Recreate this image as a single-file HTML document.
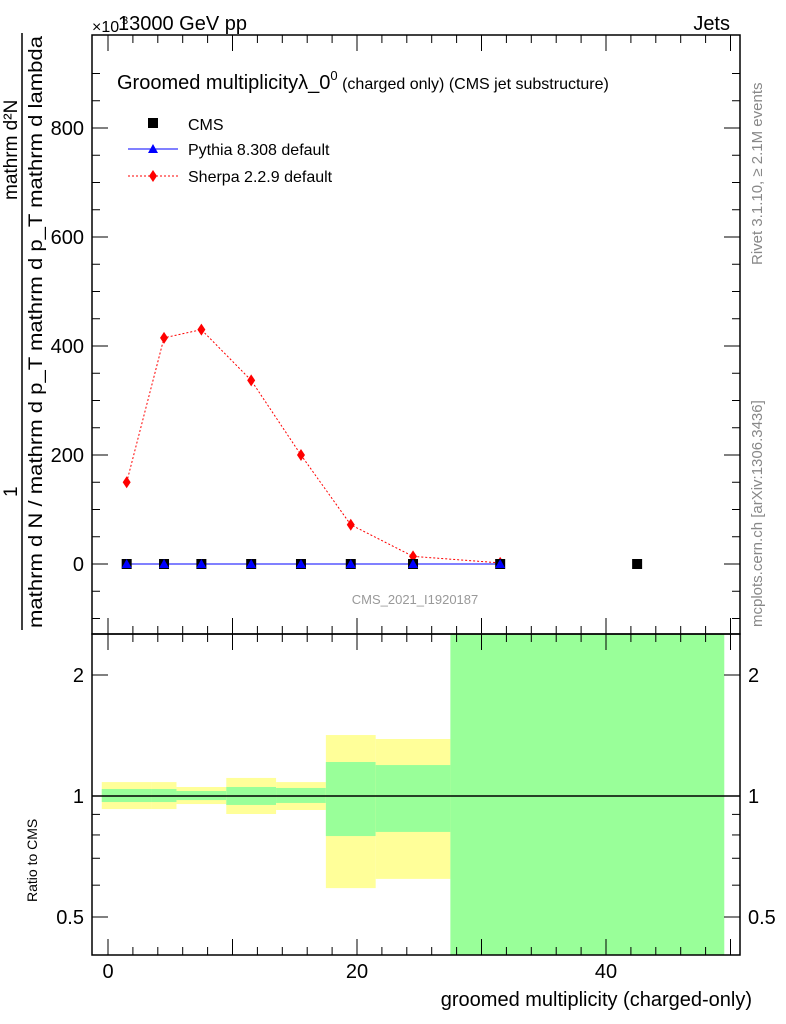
<!DOCTYPE html>
<html><head><meta charset="utf-8"><style>
body{margin:0;background:#fff}
svg{display:block;font-family:"Liberation Sans",sans-serif}
</style></head><body>
<svg id="chart" width="786" height="1024" viewBox="0 0 786 1024">
<g id="bands"></g>
<g id="main"></g>
<g id="axes"></g>
<text x="118" y="30" font-size="20">13000 GeV pp</text>
<text x="92" y="32" font-size="16">×10</text>
<text x="122" y="24" font-size="11">3</text>
<text x="730" y="30" font-size="20" text-anchor="end">Jets</text>
<text x="117" y="89" font-size="20">Groomed multiplicityλ_0<tspan font-size="13" dy="-9">0</tspan><tspan font-size="16" dy="9"> (charged only) (CMS jet substructure)</tspan></text>
<g>
<rect x="148" y="118" width="10" height="10" fill="#000"/>
<text x="188" y="130" font-size="16">CMS</text>
<line x1="128" y1="149" x2="178" y2="149" stroke="#00f"/>
<polygon points="153,144 158,153 148,153" fill="#00f"/>
<text x="188" y="155" font-size="16">Pythia 8.308 default</text>
<line x1="128" y1="176" x2="178" y2="176" stroke="#f00" stroke-dasharray="2,2"/>
<polygon points="153,170 157,176 153,182 149,176" fill="#f00"/>
<text x="188" y="182" font-size="16">Sherpa 2.2.9 default</text>
</g>
<text x="415" y="604" font-size="13" fill="#999" text-anchor="middle">CMS_2021_I1920187</text>
<text transform="translate(762,265) rotate(-90)" font-size="15" fill="#888">Rivet 3.1.10, ≥ 2.1M events</text>
<text transform="translate(762,627) rotate(-90)" font-size="15" fill="#888">mcplots.cern.ch [arXiv:1306.3436]</text>
<g>
<line x1="22" y1="33" x2="22" y2="630" stroke="#000" stroke-width="1.5"/>
<text transform="translate(17,200) rotate(-90)" font-size="19">mathrm d²N</text>
<text transform="translate(17,497) rotate(-90)" font-size="19">1</text>
<text transform="translate(42,628) rotate(-90)" font-size="19" textLength="592" lengthAdjust="spacingAndGlyphs">mathrm d N / mathrm d p_T mathrm d p_T mathrm d lambda</text>
</g>
<text transform="translate(37,902) rotate(-90)" font-size="14">Ratio to CMS</text>
<text x="752" y="1006" font-size="20" text-anchor="end">groomed multiplicity (charged-only)</text>
</svg>
<script>
const xCenters=[1.5,4.5,7.5,11.5,15.5,19.5,24.5,31.5];
const cmsX=[1.5,4.5,7.5,11.5,15.5,19.5,24.5,31.5,42.5];
const cmsY=[0,0,0,0,0,0,0,0,0];
const pythiaY=[0,0,0,0,0,0,0,0];
const sherpaY=[150,415,430,337,200,72,14,2];
const binEdges=[-0.5,3.5,5.5,9.5,13.5,17.5,21.5,27.5,49.5];
const yellowHi=[1.083,1.083,1.053,1.109,1.083,1.418,1.386,null];
const yellowLo=[0.928,0.928,0.955,0.902,0.923,0.590,0.622,null];
const greenHi=[1.041,1.041,1.029,1.053,1.047,1.215,1.194,3];
const greenLo=[0.966,0.966,0.977,0.950,0.961,0.795,0.814,0.3];
const mainYTicks=[0,200,400,600,800];
const ratioTicks=[0.5,1,2];
const xTicks=[0,20,40];
const NS="http://www.w3.org/2000/svg";
const L=92,R=740,T=35,MB=634,RB=955;
const X=v=>108+(v)*12.45;
const Y=v=>564-v*0.545;
const RY=v=>Math.min(RB,Math.max(MB,796-Math.log2(v)*121));
function mk(p,tag,a){const e=document.createElementNS(NS,tag);for(const k in a)e.setAttribute(k,a[k]);p.appendChild(e);return e;}
const bands=document.getElementById('bands'),main=document.getElementById('main'),axes=document.getElementById('axes');
for(let i=0;i<binEdges.length-1;i++){
  const x1=X(binEdges[i]),x2=X(binEdges[i+1]);
  if(yellowHi[i]!==null){
    const y=mk(bands,'rect',{x:x1,y:RY(yellowHi[i]),width:x2-x1,height:RY(yellowLo[i])-RY(yellowHi[i]),fill:'#ffff99'});
    
    
  }
  const g=mk(bands,'rect',{x:x1,y:RY(greenHi[i]),width:x2-x1,height:RY(greenLo[i])-RY(greenHi[i]),fill:'#99ff99'});
  
  
}
const one=mk(bands,'line',{x1:L,x2:R,y1:RY(1),y2:RY(1),stroke:'#000','stroke-width':1.5});


const f1=mk(axes,'rect',{x:L,y:T,width:R-L,height:MB-T,fill:'none',stroke:'#000','stroke-width':1.5});


const f2=mk(axes,'rect',{x:L,y:MB,width:R-L,height:RB-MB,fill:'none',stroke:'#000','stroke-width':1.5});


for(let v=-100;v<=900;v+=50){const y=Y(v);if(y<T||y>MB)continue;const len=(v%200===0)?16:8;
  mk(axes,'line',{x1:L,x2:L+len,y1:y,y2:y,stroke:'#000'});mk(axes,'line',{x1:R-len,x2:R,y1:y,y2:y,stroke:'#000'});}
mainYTicks.forEach(v=>{const t=mk(axes,'text',{x:84,y:Y(v)+7,'font-size':20,'text-anchor':'end'});t.textContent=v;
  
  });
for(let v=0;v<=50;v+=2){const x=X(v);if(x>R)continue;const len=(v%10===0)?16:8;
  mk(axes,'line',{x1:x,x2:x,y1:T,y2:T+len,stroke:'#000'});mk(axes,'line',{x1:x,x2:x,y1:MB,y2:MB-len,stroke:'#000'});
  mk(axes,'line',{x1:x,x2:x,y1:MB,y2:MB+len,stroke:'#000'});mk(axes,'line',{x1:x,x2:x,y1:RB,y2:RB-len,stroke:'#000'});}
xTicks.forEach(v=>{const t=mk(axes,'text',{x:X(v),y:978,'font-size':20,'text-anchor':'middle'});t.textContent=v;
  
  });
[0.4,0.5,0.6,0.7,0.8,0.9,1,2].forEach(v=>{const y=RY(v);const len=ratioTicks.includes(v)?16:8;
  mk(axes,'line',{x1:L,x2:L+len,y1:y,y2:y,stroke:'#000'});mk(axes,'line',{x1:R-len,x2:R,y1:y,y2:y,stroke:'#000'});});
ratioTicks.forEach(v=>{[[84,'end'],[748,'start']].forEach(([x,a])=>{const t=mk(axes,'text',{x:x,y:RY(v)+7,'font-size':20,'text-anchor':a});t.textContent=v;
  
  });});
const sp=mk(main,'polyline',{points:xCenters.map((x,i)=>X(x)+','+Y(sherpaY[i])).join(' '),fill:'none',stroke:'#f00','stroke-dasharray':'2,2'});


xCenters.forEach((x,i)=>{const cx=X(x),cy=Y(sherpaY[i]);
  const d=mk(main,'polygon',{points:`${cx},${cy-6} ${cx+4},${cy} ${cx},${cy+6} ${cx-4},${cy}`,fill:'#f00'});
  
  });
const pp=mk(main,'polyline',{points:xCenters.map((x,i)=>X(x)+','+Y(pythiaY[i])).join(' '),fill:'none',stroke:'#00f'});


cmsX.forEach((x,i)=>{const r=mk(main,'rect',{x:X(x)-5,y:Y(cmsY[i])-5,width:10,height:10,fill:'#000'});
  
  });
xCenters.forEach((x,i)=>{const cx=X(x),cy=Y(pythiaY[i]);
  const t=mk(main,'polygon',{points:`${cx},${cy-5} ${cx+5},${cy+4} ${cx-5},${cy+4}`,fill:'#00f'});
  
  });
</script>
</body></html>
